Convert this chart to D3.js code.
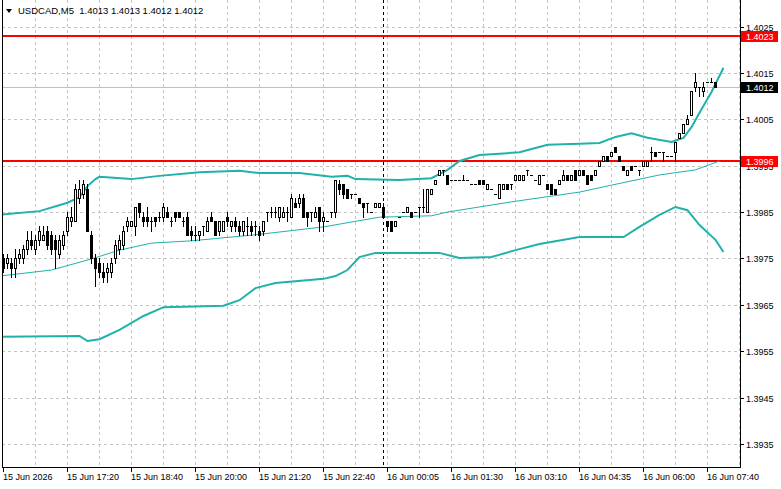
<!DOCTYPE html>
<html><head><meta charset="utf-8">
<script src="https://cdn.jsdelivr.net/npm/d3@7"></script>
<style>html,body{margin:0;padding:0;background:#fff;overflow:hidden}</style>
</head><body>
<svg id="c" width="781" height="489"></svg>
<script>
// ---------------- DATA ----------------
const chartTitle = "USDCAD,M5  1.4013 1.4013 1.4012 1.4012";

const opens = [
1.3975,1.3974,1.3974,1.3973,1.3975,1.3975,1.3977,1.3979,1.3977,1.3979,
1.3979,1.3981,1.3980,1.3979,1.3976,1.3978,1.3981,1.3983,1.3983,1.3988,
1.3989,1.3990,1.3980,1.3975,1.3974,1.3972,1.3972,1.3972,1.3975,1.3977,
1.3978,1.3982,1.3982,1.3982,1.3987,1.3984,1.3984,1.3983,1.3984,1.3984,
1.3984,1.3985,1.3983,1.3985,1.3985,1.3983,1.3984,1.3981,1.3980,1.3980,
1.3982,1.3981,1.3984,1.3983,1.3981,1.3981,1.3984,1.3982,1.3983,1.3982,
1.3981,1.3982,1.3982,1.3982,1.3981,1.3981,1.3985,1.3985,1.3985,1.3984,
1.3984,1.3985,1.3984,1.3987,1.3987,1.3988,1.3985,1.3985,1.3984,1.3986,
1.3983,1.3983,1.3985,1.3985,1.3991,1.3991,1.3990,1.3989,1.3989,1.3988,
1.3987,1.3987,1.3985,1.3986,1.3986,1.3986,1.3983,1.3983,1.3982,1.3984,
1.3985,1.3985,1.3985,1.3985,1.3986,1.3986,1.3985,1.3989,1.3991,1.3993,
1.3994,1.3993,1.3992,1.3992,1.3992,1.3992,1.3992,1.3991,1.3991,1.3992,
1.3992,1.3990,1.3990,1.3989,1.3988,1.3990,1.3991,1.3991,1.3992,1.3992,
1.3992,1.3994,1.3993,1.3992,1.3991,1.3993,1.3991,1.3991,1.3990,1.3991,
1.3992,1.3993,1.3992,1.3994,1.3993,1.3994,1.3993,1.3993,1.3993,1.3995,
1.3996,1.3997,1.3997,1.3999,1.3997,1.3995,1.3993,1.3995,1.3995,1.3994,
1.3995,1.3995,1.3998,1.3998,1.3998,1.3998,1.3997,1.3997,1.3998,1.4001,
1.4002,1.4004,1.4006,1.4012,1.4012,1.4011,1.4013,1.4013,1.4013];

const highs = [
1.3976,1.3976,1.3975,1.3977,1.3977,1.3978,1.3981,1.3981,1.3980,1.3982,
1.3982,1.3982,1.3981,1.3980,1.3980,1.3981,1.3985,1.3986,1.3991,1.3992,
1.3992,1.3991,1.3981,1.3976,1.3975,1.3974,1.3974,1.3975,1.3979,1.3980,
1.3982,1.3984,1.3983,1.3986,1.3987,1.3985,1.3986,1.3984,1.3984,1.3985,
1.3987,1.3986,1.3984,1.3985,1.3985,1.3984,1.3985,1.3982,1.3982,1.3981,
1.3982,1.3984,1.3985,1.3983,1.3983,1.3983,1.3985,1.3983,1.3984,1.3983,
1.3983,1.3984,1.3983,1.3983,1.3982,1.3983,1.3985,1.3986,1.3986,1.3986,
1.3986,1.3986,1.3989,1.3988,1.3989,1.3989,1.3985,1.3985,1.3986,1.3986,
1.3985,1.3983,1.3985,1.3992,1.3992,1.3991,1.3990,1.3989,1.3989,1.3988,
1.3987,1.3987,1.3985,1.3987,1.3987,1.3987,1.3983,1.3983,1.3983,1.3984,
1.3985,1.3986,1.3985,1.3985,1.3986,1.3990,1.3990,1.3990,1.3992,1.3994,
1.3994,1.3993,1.3992,1.3992,1.3992,1.3993,1.3992,1.3991,1.3991,1.3992,
1.3992,1.3991,1.3990,1.3989,1.3991,1.3991,1.3991,1.3991,1.3993,1.3993,
1.3993,1.3994,1.3993,1.3992,1.3993,1.3993,1.3991,1.3991,1.3990,1.3992,
1.3994,1.3993,1.3993,1.3994,1.3994,1.3994,1.3993,1.3993,1.3994,1.3996,
1.3997,1.3997,1.3998,1.3999,1.3997,1.3995,1.3994,1.3995,1.3995,1.3994,
1.3996,1.3996,1.3999,1.3998,1.3998,1.3998,1.3997,1.3997,1.4000,1.4002,
1.4004,1.4006,1.4011,1.4015,1.4012,1.4013,1.4013,1.4014,1.4013];

const lows = [
1.3972,1.3973,1.3971,1.3971,1.3974,1.3974,1.3976,1.3977,1.3976,1.3978,
1.3979,1.3977,1.3976,1.3973,1.3975,1.3977,1.3980,1.3982,1.3983,1.3987,
1.3988,1.3981,1.3974,1.3969,1.3971,1.3970,1.3970,1.3971,1.3974,1.3976,
1.3977,1.3981,1.3982,1.3980,1.3984,1.3982,1.3982,1.3981,1.3982,1.3983,
1.3983,1.3984,1.3982,1.3983,1.3984,1.3982,1.3980,1.3979,1.3979,1.3979,
1.3980,1.3981,1.3983,1.3980,1.3980,1.3981,1.3982,1.3981,1.3981,1.3980,
1.3980,1.3980,1.3980,1.3980,1.3979,1.3980,1.3983,1.3984,1.3984,1.3983,
1.3984,1.3983,1.3984,1.3986,1.3986,1.3984,1.3982,1.3983,1.3984,1.3981,
1.3981,1.3983,1.3984,1.3984,1.3989,1.3988,1.3988,1.3988,1.3989,1.3987,
1.3984,1.3985,1.3985,1.3986,1.3986,1.3984,1.3981,1.3981,1.3982,1.3984,
1.3985,1.3985,1.3984,1.3985,1.3984,1.3985,1.3985,1.3989,1.3991,1.3993,
1.3993,1.3991,1.3992,1.3992,1.3992,1.3992,1.3992,1.3991,1.3991,1.3991,
1.3991,1.3990,1.3990,1.3989,1.3988,1.3990,1.3990,1.3990,1.3992,1.3992,
1.3992,1.3993,1.3993,1.3992,1.3991,1.3993,1.3990,1.3989,1.3989,1.3991,
1.3992,1.3992,1.3992,1.3992,1.3993,1.3993,1.3991,1.3992,1.3993,1.3995,
1.3996,1.3996,1.3997,1.3998,1.3996,1.3994,1.3993,1.3994,1.3995,1.3993,
1.3995,1.3995,1.3996,1.3997,1.3998,1.3996,1.3997,1.3997,1.3996,1.4001,
1.4002,1.4004,1.4006,1.4011,1.4010,1.4010,1.4013,1.4013,1.4012];

const closes = [
1.3973,1.3975,1.3973,1.3975,1.3976,1.3977,1.3979,1.3978,1.3979,1.3981,
1.3980,1.3978,1.3977,1.3977,1.3979,1.3980,1.3984,1.3984,1.3990,1.3990,
1.3991,1.3981,1.3975,1.3973,1.3972,1.3971,1.3973,1.3974,1.3978,1.3979,
1.3981,1.3983,1.3983,1.3986,1.3985,1.3983,1.3983,1.3983,1.3983,1.3984,
1.3986,1.3984,1.3983,1.3984,1.3984,1.3983,1.3980,1.3980,1.3980,1.3981,
1.3982,1.3983,1.3983,1.3980,1.3983,1.3983,1.3983,1.3983,1.3982,1.3981,
1.3983,1.3982,1.3981,1.3982,1.3980,1.3983,1.3985,1.3985,1.3985,1.3986,
1.3985,1.3985,1.3988,1.3986,1.3988,1.3984,1.3984,1.3985,1.3985,1.3983,
1.3984,1.3983,1.3985,1.3992,1.3990,1.3989,1.3988,1.3989,1.3989,1.3987,
1.3986,1.3987,1.3985,1.3987,1.3987,1.3984,1.3982,1.3981,1.3983,1.3984,
1.3985,1.3986,1.3984,1.3985,1.3986,1.3986,1.3990,1.3990,1.3992,1.3994,
1.3994,1.3991,1.3992,1.3992,1.3992,1.3992,1.3992,1.3991,1.3991,1.3991,
1.3991,1.3991,1.3990,1.3989,1.3991,1.3991,1.3990,1.3991,1.3993,1.3993,
1.3993,1.3994,1.3993,1.3992,1.3993,1.3993,1.3990,1.3989,1.3989,1.3992,
1.3993,1.3992,1.3993,1.3992,1.3994,1.3993,1.3991,1.3992,1.3994,1.3996,
1.3997,1.3996,1.3998,1.3998,1.3996,1.3994,1.3994,1.3994,1.3995,1.3994,
1.3996,1.3996,1.3998,1.3997,1.3998,1.3998,1.3997,1.3997,1.4000,1.4002,
1.4004,1.4005,1.4011,1.4013,1.4012,1.4012,1.4013,1.4013,1.4012];

// Bollinger bands: [bar index, price]
const upperBand = [[-1,1.39844],[9,1.39852],[16,1.39870],[19,1.39882],[21,1.39906],[23,1.39921],[24,1.39926],
[32,1.39921],[39,1.39928],[49,1.39936],[59,1.39939],[64,1.39934],[74,1.39934],[82,1.39926],[86,1.39928],
[88,1.39921],[99,1.39919],[107,1.39923],[111,1.39941],[114,1.39960],[119,1.39973],[126,1.39977],[129,1.39979],
[136,1.39995],[144,1.39997],[149,1.39999],[153,1.40012],[157,1.40020],[161,1.40010],[167,1.40001],[170,1.40010],
[172,1.40033],[174,1.40064],[177,1.40109],[180,1.40161]];
const middleBand = [[-1,1.39712],[12,1.39725],[22,1.39749],[29,1.39768],[37,1.39783],[47,1.39788],[63,1.39801],
[80,1.39818],[94,1.39839],[107,1.39842],[111,1.39850],[127,1.39872],[144,1.39893],[152,1.39908],[164,1.39930],
[173,1.39941],[179,1.39960]];
const lowerBand = [[-1,1.39581],[19,1.39583],[21,1.39572],[24,1.39576],[29,1.39596],[35,1.39626],[40,1.39645],
[55,1.39648],[59,1.39660],[63,1.39686],[68,1.39697],[80,1.39706],[83,1.39712],[86,1.39725],[89,1.39753],
[93,1.39762],[109,1.39762],[114,1.39751],[122,1.39753],[128,1.39768],[134,1.39781],[144,1.39796],[155,1.39796],
[159,1.39818],[164,1.39844],[168,1.39861],[171,1.39854],[174,1.39822],[178,1.39790],[180,1.39764]];

const priceTicks = [1.4025,1.4015,1.4005,1.3995,1.3985,1.3975,1.3965,1.3955,1.3945,1.3935];
const timeTickIdx = [0,16,32,48,64,80,96,112,128,144,160,176];
const timeTickLabels = ["15 Jun 2026","15 Jun 17:20","15 Jun 18:40","15 Jun 20:00","15 Jun 21:20","15 Jun 22:40",
"16 Jun 00:05","16 Jun 01:30","16 Jun 03:10","16 Jun 04:35","16 Jun 06:00","16 Jun 07:40"];
const levelLines = [1.4023, 1.3996];
const lastPrice = 1.4012;
const separatorIdx = 95;
const gridEveryBars = 8;

// ---------------- DRAW ----------------
const svg = d3.select("#c");
const plotL = 2, plotR = 740, plotT = 0, plotB = 467;
const FONT = "'Liberation Sans', Arial, sans-serif";

const x = d3.scaleLinear().domain([0, 1]).range([3.5, 7.5]); // 4px per bar
const y = d3.scaleLinear().domain([1.3935, 1.4025]).range([444.0, 26.5]);
const py = v => Math.round(y(v)) + 0.5;

svg.append("rect").attr("width", 781).attr("height", 489).attr("fill", "#fff");

svg.append("defs").append("clipPath").attr("id", "clip")
  .append("rect").attr("x", plotL).attr("y", plotT).attr("width", plotR - plotL).attr("height", plotB - plotT);

const grid = svg.append("g").attr("stroke", "#c4c4c4").attr("stroke-dasharray", "3,3").attr("stroke-width", 1);
priceTicks.forEach(v => {
  grid.append("line").attr("x1", plotL).attr("x2", plotR).attr("y1", py(v)).attr("y2", py(v));
});
for (let i = gridEveryBars; x(i) < plotR; i += gridEveryBars) {
  grid.append("line").attr("x1", x(i)).attr("x2", x(i)).attr("y1", plotT).attr("y2", plotB);
}

// current price line
svg.append("line").attr("x1", plotL).attr("x2", plotR).attr("y1", py(lastPrice)).attr("y2", py(lastPrice))
  .attr("stroke", "#c0c0c0").attr("stroke-width", 1);

// day separator
svg.append("line").attr("x1", x(separatorIdx)).attr("x2", x(separatorIdx)).attr("y1", plotT).attr("y2", plotB)
  .attr("stroke", "#000").attr("stroke-dasharray", "3,3").attr("stroke-width", 1);

const plot = svg.append("g").attr("clip-path", "url(#clip)");

// level lines
levelLines.forEach(v => {
  plot.append("line").attr("x1", plotL).attr("x2", plotR).attr("y1", Math.round(y(v))).attr("y2", Math.round(y(v)))
    .attr("stroke", "#ff0000").attr("stroke-width", 2);
});

// bands
const band = d3.line().x(d => x(d[0])).y(d => y(d[1]));
const teal = "#20b2aa";
plot.append("path").attr("d", band(upperBand)).attr("fill", "none").attr("stroke", teal).attr("stroke-width", 2);
plot.append("path").attr("d", band(lowerBand)).attr("fill", "none").attr("stroke", teal).attr("stroke-width", 2);
plot.append("path").attr("d", band(middleBand)).attr("fill", "none").attr("stroke", teal).attr("stroke-width", 1);

// candles
const candles = plot.append("g");
opens.forEach((o, i) => {
  const c = closes[i], h = highs[i], l = lows[i];
  const cx = x(i);
  const yH = Math.round(y(h)), yL = Math.round(y(l));
  const yO = Math.round(y(o)), yC = Math.round(y(c));
  if (yL > yH) {
    candles.append("line").attr("x1", cx).attr("x2", cx).attr("y1", yH).attr("y2", yL + 1)
      .attr("stroke", "#000").attr("stroke-width", 1);
  }
  if (yO === yC) {
    candles.append("line").attr("x1", cx - 1.5).attr("x2", cx + 1.5).attr("y1", yO + 0.5).attr("y2", yO + 0.5)
      .attr("stroke", "#000").attr("stroke-width", 1);
  } else {
    const top = Math.min(yO, yC), bot = Math.max(yO, yC);
    candles.append("rect").attr("x", cx - 1).attr("y", top + 0.5).attr("width", 2).attr("height", bot - top)
      .attr("fill", c > o ? "#fff" : "#000").attr("stroke", "#000").attr("stroke-width", 1);
  }
});

// frame
const frame = svg.append("g").attr("stroke", "#000").attr("stroke-width", 1);
frame.append("line").attr("x1", plotL + 0.5).attr("x2", plotL + 0.5).attr("y1", plotT).attr("y2", plotB + 0.5);
frame.append("line").attr("x1", plotR + 0.5).attr("x2", plotR + 0.5).attr("y1", plotT).attr("y2", plotB + 0.5);
frame.append("line").attr("x1", plotL).attr("x2", plotR + 1).attr("y1", plotB + 0.5).attr("y2", plotB + 0.5);

// price axis
const pax = svg.append("g").attr("font-family", FONT).attr("font-size", "9px").attr("fill", "#000");
priceTicks.forEach(v => {
  svg.append("line").attr("x1", plotR + 1).attr("x2", plotR + 4).attr("y1", py(v)).attr("y2", py(v)).attr("stroke", "#000");
  pax.append("text").attr("x", 746).attr("y", Math.round(y(v)) + 3.5).text(d3.format(".4f")(v));
});

// level labels
function tag(v, bg) {
  const yc = Math.round(y(v));
  svg.append("rect").attr("x", 741).attr("y", yc - 5).attr("width", 37).attr("height", 11).attr("fill", bg);
  svg.append("text").attr("x", 746).attr("y", yc + 3.5).attr("font-family", FONT).attr("font-size", "9px")
    .attr("fill", "#fff").text(d3.format(".4f")(v));
}
levelLines.forEach(v => tag(v, "#ff0000"));
tag(lastPrice, "#000");

// time axis
const tax = svg.append("g").attr("font-family", FONT).attr("font-size", "9px").attr("fill", "#000");
timeTickIdx.forEach((idx, k) => {
  svg.append("line").attr("x1", x(idx)).attr("x2", x(idx)).attr("y1", plotB + 1).attr("y2", plotB + 5).attr("stroke", "#000");
  tax.append("text").attr("x", x(idx) - 0.5).attr("y", 480).text(timeTickLabels[k]);
});

// title
svg.append("path").attr("d", "M6,9 L12,9 L9,13 Z").attr("fill", "#000");
svg.append("text").attr("x", 18).attr("y", 14).attr("font-family", FONT).attr("font-size", "9.5px")
  .attr("fill", "#000").attr("xml:space", "preserve").style("white-space", "pre").text(chartTitle);
</script>
</body></html>
